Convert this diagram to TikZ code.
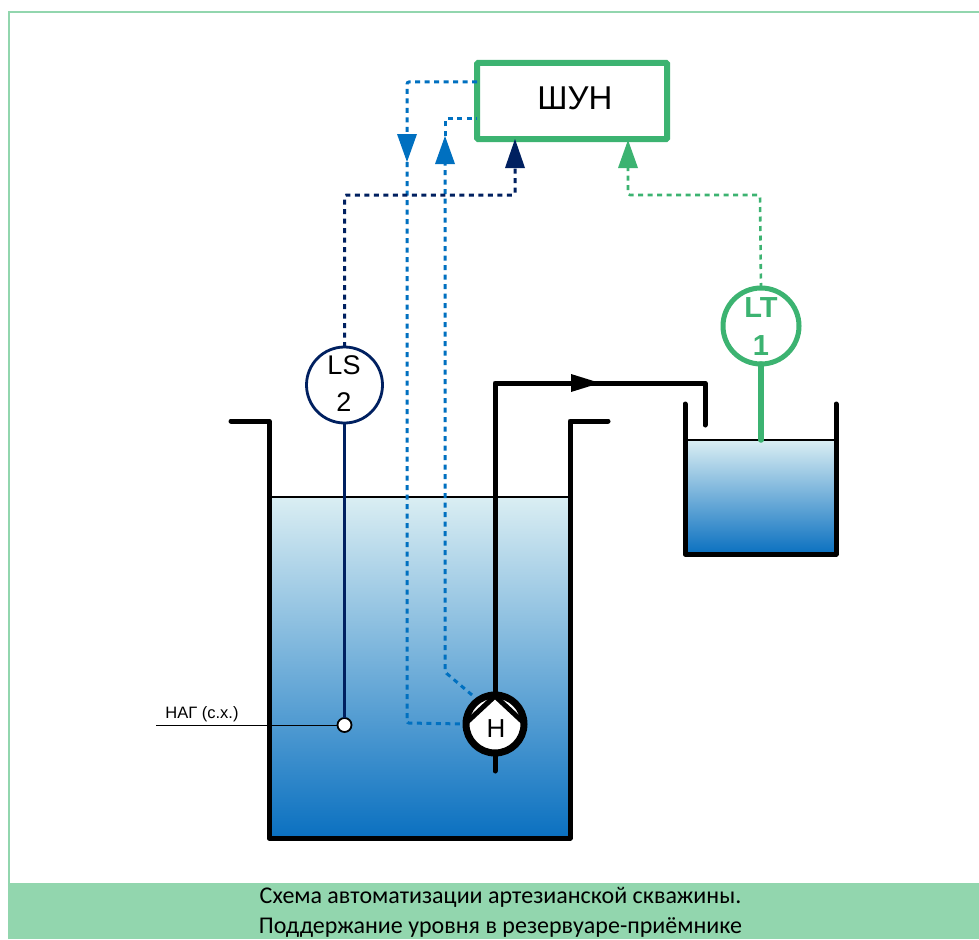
\documentclass[tikz,border=0pt]{standalone}
\usepackage{fontspec}
\setmainfont{Liberation Sans}
\newfontfamily\capfont{Carlito}
\usetikzlibrary{arrows.meta,calc}
\definecolor{bandgreen}{HTML}{92D6AE}
\definecolor{boxgreen}{HTML}{3CB371}
\definecolor{sigblue}{HTML}{0070C0}
\definecolor{signavy}{HTML}{002060}
\definecolor{watertop}{HTML}{DAEEF3}
\definecolor{waterbot}{HTML}{0A70C0}
\tikzset{
  x=1pt,y=-1pt,
  wall/.style={line width=5pt,line cap=round,line join=round,black},
  water/.style={top color=watertop,bottom color=waterbot,draw=none},
  surface/.style={line width=1.6pt,black},
  sig/.style={line width=3pt,dash pattern=on 5pt off 4.5pt,rounded corners=2pt},
  instr/.style={circle,fill=white,minimum size=76pt,inner sep=0pt,outer sep=0pt},
  txt/.style={inner sep=0pt,outer sep=0pt,font=\fontsize{27}{30}\selectfont},
  lttxt/.style={inner sep=0pt,outer sep=0pt,text=boxgreen,font=\bfseries\fontsize{29}{32}\selectfont},
  captxt/.style={inner sep=0pt,outer sep=0pt,font=\capfont\fontsize{24}{28}\selectfont},
}
\begin{document}
\begin{tikzpicture}
\useasboundingbox (0,0) rectangle (979,939);
\fill[white] (0,0) rectangle (979,939);
% frame and caption band
\draw[bandgreen,line width=2pt] (8.5,939) -- (8.5,12.5) -- (979,12.5);
\fill[bandgreen] (8,883) rectangle (979,939);
\node[captxt] (cap1) at (500.5,897) {Схема автоматизации артезианской скважины.};
\node[captxt] (cap2) at (500.5,928) {Поддержание уровня в резервуаре-приёмнике};
% water
\fill[water] (269,497) rectangle (570,838);
\fill[water] (685,440) rectangle (836,554);
\draw[surface] (269,497) -- (570,497);
\draw[surface] (685,440) -- (836,440);
% tanks
\draw[wall] (231,421) -- (269,421) -- (269,838) -- (570,838) -- (570,421) -- (608,421);
\draw[wall] (685,404) -- (685,554) -- (836,554) -- (836,404);
% nodes
\node[draw=boxgreen,line width=6pt,minimum width=190pt,minimum height=76pt,inner sep=0pt,outer sep=0pt,rounded corners=1pt] (shun) at (572,101) {};
\node[inner sep=0pt,font=\fontsize{33}{38}\selectfont] (shuntxt) at (575,98) {ШУН};
\node[instr,draw=signavy,line width=2.8pt] (ls) at (344.5,385) {};
\node[txt,text=black] (ls1) at (344,365) {LS};
\node[txt,text=black] (ls2) at (344,402) {2};
\node[instr,draw=boxgreen,line width=5pt] (lt) at (761,326) {};
\node[lttxt] (lt1) at (761,308) {LT};
\node[lttxt] (lt2) at (761,346) {1};
\node[circle,draw=black,fill=white,line width=1.8pt,minimum size=14pt,inner sep=0pt,outer sep=0pt] (sens) at (344.5,725) {};
\node[circle,draw=black,fill=white,line width=7pt,minimum size=58pt,inner sep=0pt,outer sep=0pt] (pump) at (495,724) {};
\node[inner sep=0pt,font=\fontsize{26}{28}\selectfont] (pumptxt) at (496,729) {Н};
\draw[line width=5pt,black] (pump.north) ++(0,1) -- (466,723);
\draw[line width=5pt,black] (pump.north) ++(0,1) -- (524,723);
% coordinates
\coordinate (tiplb) at (407,162);
\coordinate (tiprb) at (445,136);
\coordinate (pumpin1) at (464,724);
\coordinate (pumpin2) at (472,695);
\coordinate (nagend) at (156,725.5);
\coordinate (gauge2) at (761,440);
\coordinate (pipeend) at (705,425);
\coordinate (stub) at (495,771);
% process lines
\draw[wall] (pump.north) -- (495,383) -- (705,383) -- (pipeend);
\draw[wall] (pump.south) -- (stub);
\fill[black] (600,383) -- (571,374) -- (571,392) -- cycle;
% instrument lines
\draw[signavy,line width=3pt] (ls.south) -- (sens.north);
\draw[black,line width=1.8pt] (nagend) -- (nagend -| sens.west);
\node[inner sep=0pt,font=\fontsize{16.5}{18}\selectfont] (nag) at (202,714) {НАГ (с.х.)};
\draw[boxgreen,line width=5.5pt,line cap=round] (lt.south) -- (gauge2);
% signal lines
\draw[sig,sigblue] (shun.west |- 0,82) -- (407,82) -- (407,140);
\fill[sigblue] (407,162) -- (397,134) -- (417,134) -- cycle;
\draw[sig,sigblue] (tiplb) -- (407,723) -- (pumpin1);
\draw[sig,sigblue] (pumpin2) -- (445,672) -- (445,160);
\fill[sigblue] (445,136) -- (435,164) -- (455,164) -- cycle;
\draw[sig,sigblue] (tiprb) -- (445,119) -- (shun.west |- 0,119);
\draw[sig,signavy] (ls.north) -- (344.5,195) -- (515,195) -- (515,165);
\fill[signavy] (515,139) -- (505,168) -- (525,168) -- cycle;
\draw[sig,boxgreen,line width=2.6pt] (lt.north) -- (760,195) -- (628,195) -- (628,165);
\fill[boxgreen] (628,140) -- (618,168) -- (638,168) -- cycle;
\end{tikzpicture}
\end{document}
